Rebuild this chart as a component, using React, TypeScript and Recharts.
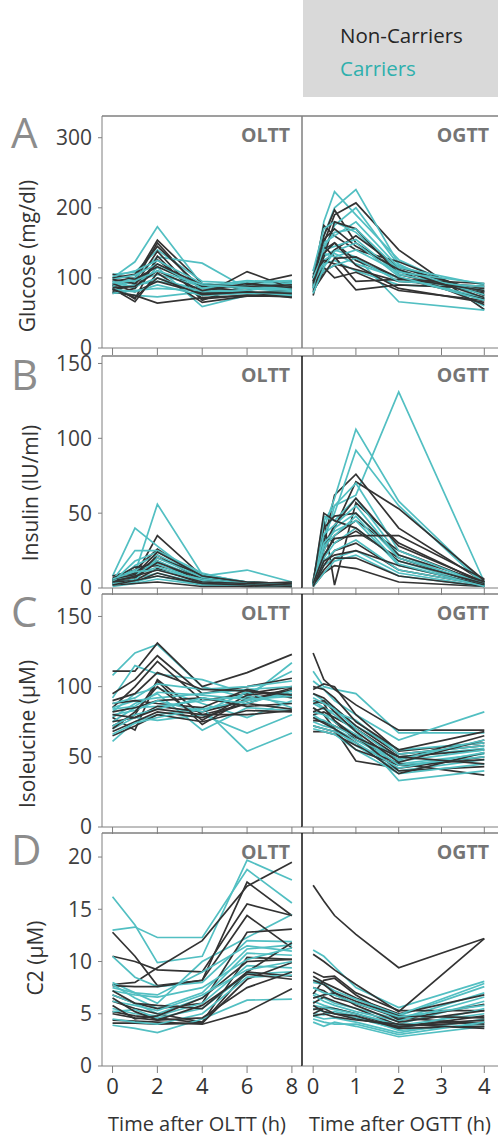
import { LineChart, Line, XAxis, YAxis, ReferenceLine } from "recharts";

// sampling times (h)
const olttHours = [0, 1, 2, 4, 6, 8];
const ogttHours = [0, 0.25, 0.5, 1, 2, 4];
const olttTicks = [0, 2, 4, 6, 8];
const ogttTicks = [0, 1, 2, 3, 4];

const glucoseTicks = [0, 100, 200, 300];
const insulinTicks = [0, 50, 100, 150];
const isoleucineTicks = [0, 50, 100, 150];
const c2Ticks = [0, 5, 10, 15, 20];

// A: glucose
const glucoseOlttNon = [
  [95, 100, 154, 92, 85, 88], [88, 95, 150, 80, 78, 80], [100, 105, 145, 85, 82, 95],
  [82, 90, 138, 70, 75, 75], [90, 70, 131, 68, 90, 104], [78, 85, 126, 75, 109, 85],
  [105, 98, 116, 88, 80, 72], [85, 66, 107, 65, 74, 74], [92, 80, 95, 78, 78, 82],
  [80, 75, 64, 72, 75, 73], [98, 92, 120, 90, 88, 90], [86, 88, 110, 82, 92, 86],
  [84, 72, 100, 76, 80, 78],
];
const glucoseOlttCar = [
  [100, 123, 173, 90, 85, 88], [105, 108, 140, 95, 92, 95], [90, 100, 130, 121, 85, 80],
  [95, 85, 115, 59, 75, 77], [85, 90, 95, 85, 90, 92], [80, 75, 73, 80, 85, 84],
  [88, 95, 105, 88, 96, 94], [102, 110, 125, 92, 88, 85], [92, 88, 100, 80, 82, 90],
  [84, 80, 90, 75, 78, 80], [98, 104, 120, 85, 94, 96], [78, 82, 85, 82, 80, 75],
  [93, 96, 110, 90, 86, 82],
];
const glucoseOgttNon = [
  [95, 150, 190, 207, 140, 55], [85, 160, 197, 150, 110, 62], [100, 175, 160, 140, 123, 75],
  [110, 140, 150, 125, 100, 70], [90, 120, 140, 160, 115, 80], [80, 110, 118, 83, 90, 85],
  [75, 130, 180, 170, 105, 78], [105, 125, 120, 112, 95, 88], [95, 145, 130, 95, 98, 92],
  [88, 115, 100, 108, 82, 68], [100, 155, 170, 145, 112, 72], [82, 105, 128, 130, 100, 82],
  [92, 135, 150, 118, 85, 65],
];
const glucoseOgttCar = [
  [90, 180, 223, 190, 126, 70], [100, 160, 200, 226, 120, 60], [85, 140, 175, 200, 118, 75],
  [95, 130, 140, 130, 66, 54], [110, 170, 180, 165, 110, 80], [80, 120, 125, 110, 90, 85],
  [105, 150, 160, 180, 115, 90], [88, 125, 135, 120, 100, 72], [98, 140, 145, 155, 105, 82],
  [92, 110, 118, 128, 95, 88], [85, 145, 165, 170, 112, 76], [100, 135, 130, 140, 108, 92],
  [78, 115, 138, 150, 102, 68],
];

// B: insulin
const insulinOlttNon = [
  [5, 8, 35, 8, 3, 2], [8, 12, 26, 6, 4, 3], [4, 6, 22, 5, 2, 2], [3, 10, 18, 4, 3, 1],
  [6, 14, 15, 7, 4, 3], [2, 3, 4, 1, 1, 1], [7, 10, 20, 9, 3, 2], [4, 5, 13, 3, 2, 2],
  [3, 4, 10, 2, 1, 1], [5, 7, 17, 6, 3, 4], [6, 9, 24, 8, 4, 3], [2, 5, 8, 3, 2, 1],
  [4, 8, 12, 4, 3, 2],
];
const insulinOlttCar = [
  [3, 10, 56, 9, 4, 2], [8, 40, 28, 5, 3, 2], [5, 25, 25, 10, 3, 2], [2, 15, 22, 8, 12, 4],
  [4, 8, 18, 6, 4, 3], [1, 3, 6, 2, 1, 1], [6, 12, 16, 4, 2, 1], [3, 6, 10, 3, 2, 2],
  [2, 5, 20, 7, 3, 2], [5, 9, 14, 5, 3, 3], [4, 18, 24, 9, 4, 2], [3, 4, 8, 2, 2, 1],
  [6, 11, 12, 6, 3, 2],
];
const insulinOgttNon = [
  [3, 30, 62, 76, 40, 4], [2, 45, 2, 57, 30, 3], [4, 25, 40, 71, 53, 5], [2, 20, 35, 45, 25, 3],
  [5, 40, 48, 50, 22, 4], [1, 10, 15, 13, 4, 1], [3, 35, 30, 38, 20, 2], [2, 15, 25, 30, 12, 2],
  [4, 28, 42, 60, 28, 4], [2, 12, 20, 20, 8, 1], [3, 50, 45, 40, 18, 3], [1, 18, 22, 25, 15, 2],
  [3, 22, 33, 35, 35, 6],
];
const insulinOgttCar = [
  [2, 30, 55, 62, 131, 4], [3, 40, 60, 106, 58, 3], [2, 35, 50, 92, 55, 2], [4, 48, 45, 60, 22, 1],
  [3, 25, 40, 50, 20, 2], [1, 15, 20, 25, 10, 1], [2, 45, 55, 70, 25, 2], [3, 20, 30, 40, 18, 1],
  [1, 10, 18, 22, 8, 1], [2, 30, 38, 45, 15, 2], [4, 36, 42, 55, 20, 3], [2, 18, 25, 32, 12, 2],
  [3, 28, 35, 48, 16, 1],
];

// C: isoleucine
const isoleucineOlttNon = [
  [111, 111, 131, 100, 110, 123], [95, 105, 122, 95, 100, 106], [85, 100, 118, 90, 95, 100],
  [78, 69, 105, 80, 88, 98], [72, 80, 104, 73, 92, 95], [88, 90, 88, 85, 98, 92],
  [68, 75, 82, 78, 88, 84], [75, 78, 86, 82, 90, 99], [65, 72, 80, 75, 83, 82],
  [82, 85, 90, 92, 86, 88], [70, 82, 100, 76, 94, 97], [80, 78, 84, 80, 80, 83],
  [90, 95, 110, 98, 97, 94],
];
const isoleucineOlttCar = [
  [108, 124, 130, 100, 92, 117], [92, 115, 109, 105, 95, 111], [82, 95, 99, 88, 78, 90],
  [78, 88, 95, 69, 85, 83], [61, 75, 80, 85, 54, 67], [85, 90, 92, 95, 98, 100],
  [70, 78, 76, 80, 67, 80], [75, 85, 86, 90, 93, 88], [88, 92, 102, 98, 100, 104],
  [66, 74, 78, 84, 90, 95], [80, 83, 90, 82, 96, 85], [72, 80, 84, 92, 88, 97],
  [84, 86, 96, 94, 91, 93],
];
const isoleucineOgttNon = [
  [124, 105, 98, 87, 69, 69], [98, 102, 100, 80, 54, 60], [90, 88, 75, 62, 48, 65],
  [85, 80, 70, 47, 42, 50], [80, 82, 78, 70, 50, 55], [68, 68, 66, 58, 45, 37],
  [76, 75, 72, 65, 40, 43], [95, 92, 85, 72, 52, 58], [72, 70, 68, 55, 44, 48],
  [88, 90, 82, 68, 46, 62], [78, 74, 70, 60, 38, 53], [100, 98, 92, 75, 55, 68],
  [82, 85, 76, 64, 50, 45],
];
const isoleucineOgttCar = [
  [111, 100, 98, 95, 67, 67], [104, 98, 90, 80, 62, 82], [95, 90, 85, 72, 55, 60],
  [85, 80, 78, 70, 50, 56], [80, 75, 70, 62, 45, 52], [75, 72, 70, 58, 40, 48],
  [90, 85, 80, 68, 33, 40], [70, 68, 66, 55, 38, 45], [88, 84, 82, 76, 52, 58],
  [78, 76, 72, 64, 47, 55], [82, 80, 75, 66, 44, 50], [72, 70, 68, 60, 42, 53],
  [92, 88, 84, 70, 48, 62],
];

// D: C2
const c2OlttNon = [
  [7.8, 8.0, 9.4, 12.0, 17.2, 19.5], [12.8, 10.5, 7.7, 8.2, 17.6, 14.4], [10.5, 10.0, 9.2, 9.0, 15.5, 14.4],
  [7.7, 7.6, 7.6, 8.2, 14.4, 11.3], [6.8, 6.0, 5.5, 6.0, 12.8, 13.1], [6.2, 5.5, 5.0, 4.2, 10.4, 10.2],
  [5.2, 4.8, 4.6, 4.1, 9.0, 11.8], [4.4, 4.3, 4.2, 4.0, 5.2, 7.4], [4.1, 4.1, 4.0, 4.1, 8.3, 9.9],
  [7.2, 6.0, 5.8, 5.5, 9.0, 8.6], [5.8, 4.5, 4.8, 6.5, 10.0, 10.2], [6.5, 5.2, 4.4, 4.6, 7.5, 9.0],
  [5.0, 4.6, 4.4, 5.8, 8.8, 8.3],
];
const c2OlttCar = [
  [16.2, 13.5, 9.9, 10.5, 19.7, 17.8], [13.0, 13.3, 12.3, 12.3, 18.8, 15.6], [8.0, 7.0, 6.0, 10.0, 12.3, 14.5],
  [10.5, 8.5, 7.6, 8.0, 12.0, 11.9], [7.8, 6.5, 5.5, 7.0, 11.2, 11.6], [6.8, 6.0, 5.0, 6.5, 10.8, 10.6],
  [5.5, 5.0, 4.8, 6.0, 9.6, 9.4], [3.9, 3.6, 3.2, 4.5, 6.3, 6.4], [5.2, 5.4, 4.6, 5.5, 8.8, 9.0],
  [7.2, 6.8, 6.6, 7.5, 10.2, 11.3], [4.5, 4.2, 4.0, 5.0, 8.5, 8.7], [6.2, 5.8, 5.3, 6.8, 9.2, 10.0],
  [7.5, 7.0, 6.8, 9.0, 11.5, 11.0],
];
const c2OgttNon = [
  [17.3, 15.8, 14.4, 12.6, 9.4, 12.2], [10.7, 10.0, 9.2, 7.8, 5.2, 12.2], [9.0, 8.5, 8.6, 7.0, 5.3, 5.3],
  [8.6, 8.0, 7.5, 6.5, 5.0, 6.8], [6.9, 8.2, 8.4, 6.8, 4.4, 5.9], [6.0, 6.6, 6.2, 5.5, 3.9, 4.4],
  [5.4, 5.6, 5.5, 5.0, 3.7, 4.8], [7.5, 7.2, 6.5, 6.0, 4.6, 4.0], [5.0, 5.5, 5.0, 4.8, 3.6, 3.8],
  [6.5, 6.8, 7.0, 5.8, 4.2, 5.3], [5.8, 5.2, 5.0, 4.5, 3.8, 4.2], [8.2, 7.8, 7.0, 6.2, 4.8, 4.6],
  [4.8, 5.0, 4.7, 4.4, 4.0, 3.6],
];
const c2OgttCar = [
  [11.1, 10.5, 9.5, 7.5, 5.6, 8.1], [8.2, 8.0, 6.8, 6.0, 4.8, 7.6], [7.0, 6.5, 6.0, 5.5, 4.5, 7.0],
  [6.2, 5.8, 5.5, 5.0, 4.0, 6.2], [5.5, 5.2, 5.0, 4.6, 3.5, 5.5], [4.8, 4.5, 4.6, 4.2, 3.2, 4.5],
  [4.2, 3.8, 4.2, 3.8, 2.8, 3.8], [5.0, 4.9, 5.2, 4.8, 3.4, 4.0], [8.0, 7.8, 7.2, 6.4, 4.9, 7.9],
  [6.8, 6.2, 5.8, 5.2, 4.3, 6.6], [5.8, 5.6, 5.4, 5.0, 3.9, 5.0], [4.5, 4.2, 4.0, 4.0, 3.0, 4.2],
  [7.5, 7.0, 6.8, 6.0, 4.7, 5.8],
];

const DARK = "#333333";
const TEAL = "#52bfc2";
const AXIS = "#7f7f7f";
const FONT = "'Open Sans', sans-serif";

const panels = [
  { letter: "A", label: "Glucose (mg/dl)", top: 116, h: 232, yMax: 331, ticks: glucoseTicks,
    olttNon: glucoseOlttNon, olttCar: glucoseOlttCar, ogttNon: glucoseOgttNon, ogttCar: glucoseOgttCar,
    divider: AXIS, letterY: 148, labelX: 27, labelY: 256 },
  { letter: "B", label: "Insulin (IU/ml)", top: 356, h: 232, yMax: 155, ticks: insulinTicks,
    olttNon: insulinOlttNon, olttCar: insulinOlttCar, ogttNon: insulinOgttNon, ogttCar: insulinOgttCar,
    divider: "#111", letterY: 390, labelX: 30, labelY: 493 },
  { letter: "C", label: "Isoleucine (µM)", top: 594, h: 233, yMax: 166, ticks: isoleucineTicks,
    olttNon: isoleucineOlttNon, olttCar: isoleucineOlttCar, ogttNon: isoleucineOgttNon, ogttCar: isoleucineOgttCar,
    divider: "#111", letterY: 627, labelX: 27, labelY: 734 },
  { letter: "D", label: "C2 (µM)", top: 833, h: 233, yMax: 22.3, ticks: c2Ticks,
    olttNon: c2OlttNon, olttCar: c2OlttCar, ogttNon: c2OgttNon, ogttCar: c2OgttCar,
    divider: "#111", letterY: 865, labelX: 35, labelY: 958 },
];

function buildRows(hours: number[], non: number[][], car: number[][]) {
  return hours.map((t, i) => {
    const row: Record<string, number> = { t };
    non.forEach((s, j) => (row["n" + j] = s[i]));
    car.forEach((s, j) => (row["c" + j] = s[i]));
    return row;
  });
}

function seriesLines(n: number) {
  const out = [];
  for (let j = 0; j < n; j++) {
    out.push(<Line key={"c" + j} dataKey={"c" + j} stroke={TEAL} strokeWidth={1.7} dot={false} isAnimationActive={false} />);
    out.push(<Line key={"n" + j} dataKey={"n" + j} stroke={DARK} strokeWidth={1.7} dot={false} isAnimationActive={false} />);
  }
  return out;
}

const noTick = () => <g />;

function Row({ p, last }: { p: (typeof panels)[number]; last: boolean }) {
  const axisH = last ? 40 : 8;
  const tickStyle = last ? { fill: "#333", fontSize: 22 } : noTick;
  const left = buildRows(olttHours, p.olttNon, p.olttCar);
  const right = buildRows(ogttHours, p.ogttNon, p.ogttCar);
  return (
    <>
      <div style={{ position: "absolute", left: 0, top: p.top, width: 302, height: p.h + axisH }}>
        <LineChart width={302} height={p.h + axisH} data={left} margin={{ top: 0, right: 0, bottom: 0, left: 0 }}>
          <XAxis dataKey="t" type="number" domain={[-0.47, 8.45]} ticks={olttTicks} allowDataOverflow
            height={axisH} tickSize={7} tickMargin={5} stroke={AXIS} tick={tickStyle} interval={0} />
          <YAxis type="number" domain={[0, p.yMax]} ticks={p.ticks} width={102} allowDataOverflow
            tickSize={4} tickMargin={6} stroke={AXIS} tick={{ fill: "#404040", fontSize: 21 }} interval={0} />
          <ReferenceLine y={p.yMax} stroke={AXIS} strokeWidth={1.5} />
          {seriesLines(p.olttNon.length)}
        </LineChart>
      </div>
      <div style={{ position: "absolute", left: 302, top: p.top, width: 196, height: p.h + axisH }}>
        <LineChart width={196} height={p.h + axisH} data={right} margin={{ top: 0, right: 0, bottom: 0, left: 0 }}>
          <XAxis dataKey="t" type="number" domain={[-0.26, 4.32]} ticks={ogttTicks} allowDataOverflow
            height={axisH} tickSize={7} tickMargin={5} stroke={AXIS} tick={tickStyle} interval={0} />
          <YAxis type="number" domain={[0, p.yMax]} hide allowDataOverflow />
          <ReferenceLine y={p.yMax} stroke={AXIS} strokeWidth={1.5} />
          <ReferenceLine x={-0.26} stroke={p.divider} strokeWidth={1.5} />
          {seriesLines(p.ogttNon.length)}
        </LineChart>
      </div>
    </>
  );
}

export default function App() {
  return (
    <div style={{ position: "absolute", left: 0, top: 0, width: 498, height: 1136, background: "#fff", fontFamily: FONT }}>
      <style>{".recharts-surface{overflow:visible}"}</style>
      <div style={{ position: "absolute", left: 303, top: 0, width: 195, height: 97, background: "#d9d9d9" }}>
        <div style={{ position: "absolute", left: 37, top: 21, fontSize: 20.5, color: "#262626", lineHeight: "28px" }}>Non-Carriers</div>
        <div style={{ position: "absolute", left: 37, top: 54, fontSize: 20.5, color: "#2fb0ad", lineHeight: "28px" }}>Carriers</div>
      </div>
      {panels.map((p, i) => (
        <Row key={p.letter} p={p} last={i === panels.length - 1} />
      ))}
      <svg width={498} height={1136} style={{ position: "absolute", left: 0, top: 0, pointerEvents: "none" }}>
        {panels.map((p) => (
          <g key={p.letter}>
            <text x={11} y={p.letterY} fontSize={42} fill="#8c8c8c">{p.letter}</text>
            <text transform={`translate(${p.labelX},${p.labelY}) rotate(-90)`} textAnchor="middle"
              dominantBaseline="central" fontSize={21} fill="#333">{p.label}</text>
            <text x={290} y={p.top + 26} textAnchor="end" fontSize={19.5} fontWeight="bold" fill="#757575">OLTT</text>
            <text x={489} y={p.top + 26} textAnchor="end" fontSize={19.5} fontWeight="bold" fill="#757575">OGTT</text>
          </g>
        ))}
        <text x={197} y={1131} textAnchor="middle" fontSize={20} fill="#333">Time after OLTT (h)</text>
        <text x={400} y={1131} textAnchor="middle" fontSize={20} fill="#333">Time after OGTT (h)</text>
      </svg>
    </div>
  );
}
